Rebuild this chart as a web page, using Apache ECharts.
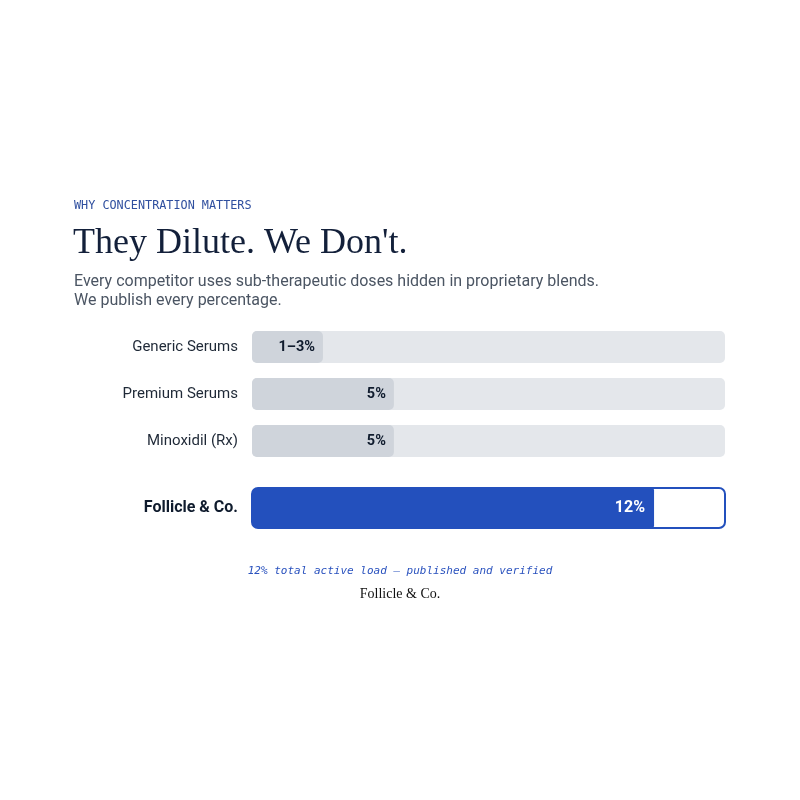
<!DOCTYPE html>
<html><head><meta charset="utf-8">
<script src="https://cdn.jsdelivr.net/npm/echarts@6/dist/echarts.min.js"></script>
<style>html,body{margin:0;padding:0;background:#fff}#c{width:800px;height:800px}</style>
</head><body><div id="c"></div>
<script>
const eyebrow = 'WHY CONCENTRATION MATTERS';
const headline = "They Dilute. We Don't.";
const subtitle = 'Every competitor uses sub-therapeutic doses hidden in proprietary blends.\nWe publish every percentage.';
const categories = ['Generic Serums', 'Premium Serums', 'Minoxidil (Rx)'];
const fillShare = [15, 30, 30];          // bar fill, percent of track
const valueLabels = ['1–3%', '5%', '5%'];
const brandCategory = ['Follicle & Co.'];
const brandFill = [85];
const brandLabel = ['12%'];
const footnote = '12% total active load – published and verified';
const signature = 'Follicle & Co.';

const chart = echarts.init(document.getElementById('c'), null, {renderer: 'canvas'});
const BLUE = '#2350bd';
const xAx = (g) => ({gridIndex: g, type: 'value', min: 0, max: 100, show: false});
const yAx = (g, cats, bold) => ({
  gridIndex: g, type: 'category', data: cats, inverse: true,
  axisLine: {show: false}, axisTick: {show: false}, splitLine: {show: false},
  axisLabel: {margin: 14, color: bold ? '#0f1b2d' : '#1f2937', fontSize: bold ? 16 : 15,
    fontWeight: bold ? 'bold' : 'normal', fontFamily: 'Roboto', padding: [2, 0, 0, 0]}
});
chart.setOption({
  animation: false,
  grid: [
    {left: 252, right: 75, top: 323.5, height: 141},
    {left: 252, right: 75, top: 488, height: 40}
  ],
  xAxis: [xAx(0), xAx(1)],
  yAxis: [yAx(0, categories, false), yAx(1, brandCategory, true)],
  series: [
    {
      type: 'bar', xAxisIndex: 0, yAxisIndex: 0, barWidth: 32,
      data: fillShare.map((v, i) => ({value: v, label: {formatter: valueLabels[i]}})),
      showBackground: true,
      backgroundStyle: {color: '#e4e7eb', borderRadius: 5},
      itemStyle: {color: '#cfd4db', borderRadius: 5},
      label: {show: true, position: 'insideRight', distance: 8, color: '#0f1b2d',
        fontWeight: 'bold', fontSize: 14.5, fontFamily: 'Roboto', padding: [2, 0, 0, 0]}
    },
    {
      type: 'bar', xAxisIndex: 1, yAxisIndex: 1, barWidth: 40,
      data: brandFill.map((v, i) => ({value: v, label: {formatter: brandLabel[i]}})),
      showBackground: true,
      backgroundStyle: {color: '#ffffff', borderColor: BLUE, borderWidth: 2, borderRadius: 6},
      itemStyle: {color: BLUE, borderRadius: [6, 2, 2, 6]},
      label: {show: true, position: 'insideRight', distance: 9, color: '#ffffff',
        fontWeight: 'bold', fontSize: 16, fontFamily: 'Roboto', padding: [2, 0, 0, 0]}
    }
  ],
  graphic: [
    {type: 'text', left: 74, top: 200, style: {text: eyebrow, fill: '#2f4f9f',
      font: '11.8px "DejaVu Sans Mono"'}},
    {type: 'text', left: 73, top: 226, style: {text: headline, fill: '#13203a',
      font: '36px "Liberation Serif"'}},
    {type: 'text', left: 74, top: 272, style: {text: subtitle, fill: '#4b5563',
      font: '16px Roboto', lineHeight: 19.5}},
    {type: 'text', left: 'center', top: 566, style: {text: footnote, fill: '#2a52be',
      font: 'italic 11px "DejaVu Sans Mono"'}},
    {type: 'text', left: 'center', top: 587, style: {text: signature, fill: '#111111',
      font: '14px "Liberation Serif"'}}
  ]
});
</script></body></html>
